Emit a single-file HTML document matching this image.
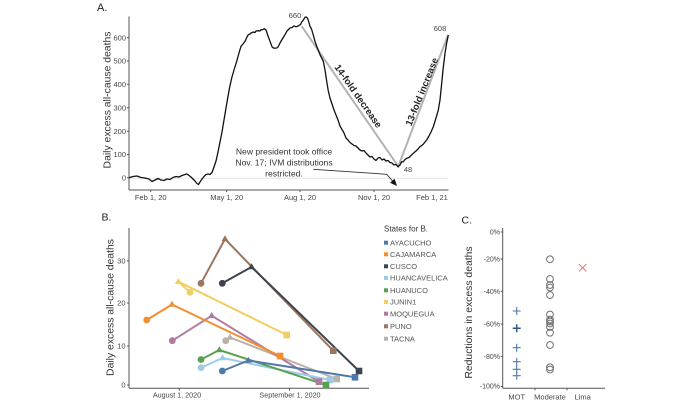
<!DOCTYPE html>
<html><head><meta charset="utf-8"><style>
html,body{margin:0;padding:0;background:#fff;}
svg{display:block;font-family:"Liberation Sans",Arial,sans-serif;}
</style></head><body>
<svg width="697" height="400" viewBox="0 0 697 400" xmlns="http://www.w3.org/2000/svg">
<rect width="697" height="400" fill="#fff"/>

<!-- ================= PANEL A ================= -->
<text x="97" y="11" font-size="11" fill="#222">A.</text>
<!-- zero line -->
<line x1="129" y1="178.3" x2="448" y2="178.3" stroke="#e6e6e6" stroke-width="1"/>
<!-- axes -->
<line x1="129" y1="16.5" x2="129" y2="190" stroke="#555" stroke-width="1"/>
<line x1="129" y1="190" x2="448.5" y2="190" stroke="#555" stroke-width="1"/>
<g stroke="#555" stroke-width="1">
<line x1="127" y1="37.7" x2="129" y2="37.7"/><line x1="127" y1="61" x2="129" y2="61"/>
<line x1="127" y1="84.3" x2="129" y2="84.3"/><line x1="127" y1="107.7" x2="129" y2="107.7"/>
<line x1="127" y1="131.3" x2="129" y2="131.3"/><line x1="127" y1="154.5" x2="129" y2="154.5"/>
<line x1="127" y1="177.8" x2="129" y2="177.8"/>
<line x1="150.7" y1="190" x2="150.7" y2="192"/><line x1="226.7" y1="190" x2="226.7" y2="192"/>
<line x1="300" y1="190" x2="300" y2="192"/><line x1="374" y1="190" x2="374" y2="192"/>
</g>
<g font-size="7.5" fill="#444" text-anchor="end">
<text x="126" y="40.3">600</text><text x="126" y="63.6">500</text>
<text x="126" y="86.9">400</text><text x="126" y="110.3">300</text>
<text x="126" y="133.9">200</text><text x="126" y="157.1">100</text>
<text x="126" y="180.4">0</text>
</g>
<g font-size="7.5" fill="#444" text-anchor="middle">
<text x="150.7" y="200">Feb 1, 20</text><text x="226.7" y="200">May 1, 20</text>
<text x="300" y="200">Aug 1, 20</text><text x="374" y="200">Nov 1, 20</text>
<text x="432" y="200">Feb 1, 21</text>
</g>
<text transform="translate(106.7,100) rotate(-90)" x="0" y="3.6" font-size="10.4" fill="#333" text-anchor="middle">Daily excess all-cause deaths</text>

<!-- gray trend lines -->
<polyline points="301.7,26.3 398.3,166.5 448,35" fill="none" stroke="#b3b3b3" stroke-width="2"/>
<!-- main curve -->
<polyline fill="none" stroke="#111" stroke-width="1.3" stroke-linejoin="round" points="
129,177.7 133,176.5 137,176 141,177.5 145,178 149,179 152,181.5 155,180 158,178.5 161,180 164,180.5 167,179 170,179.5 173,177.5 176,176.5 179,177 182,175.5 185,174.5 187,174 189,175.5 191,177 193,179 195,181 197,183.5 198.5,184.5 200,182 202,179 204,176.5 206,174.5 208,174 210,174.5 212,172.5 214,167 216,161 218,152 220,142 222,132 224,120 226,108 227.7,98 229.5,88 231.7,78 234,70 236.7,61.3 239,53 241,46.3 243,44 245,41.3 247,37 248.3,34.7 250,34 251,33 253.3,32 255,32.5 256,31 258.3,30.7 260,31 261,29.8 263,29.5 264.3,28.7 266,30 266.7,32 268,36 270,41.3 272.3,47.3 274,48.2 276.7,48 278,47 280,43 282,39.5 285,34.7 287,31 290,28 292,27.5 294,26 296,26.8 298,26 299.3,25.3 300.5,24.5 301.7,22 303,20.5 305,17.3 306.5,17 307.7,18.7 308.5,21 310,26.3 311.5,29 313,34 315,41.3 317,47 320,54.7 323.3,61.3 325,70 326.7,81.3 328.3,91 330,98 332,104 334,110 336,115 338,120 340,126 342,129.5 344,133 346,138 348,140 350,142.5 352,144 354,145.5 356,146 358,148 360,150 362,151 364,150.5 366,153 368,155 370,157 372,156.5 374,159 376,160.5 378,158 380,157.5 382,160 384,159 386,161 388,160.5 390,162.5 392,163 394,165 396,164.5 398,166.7 400,165 401.7,161.7 403,162 405,159.5 406.7,158.3 409,157.5 411,155.5 413.3,153.3 416,151 418,149 420,146.7 423,144.5 426.7,140 429,136 431,132 433.3,126.7 436,118 438.3,110 440,100 441.7,83.3 443,70 445,53.3 446.5,44 448.3,35"/>

<g font-size="7.5" fill="#444" text-anchor="middle">
<text x="295" y="18">660</text>
<text x="440" y="31">608</text>
<text x="408" y="172">48</text>
</g>
<text transform="translate(358.3,96) rotate(55)" x="0" y="3.3" font-size="9.5" font-weight="bold" fill="#222" text-anchor="middle">14-fold decrease</text>
<text transform="translate(421.7,91.7) rotate(-68)" x="0" y="3.3" font-size="9.5" font-weight="bold" fill="#222" text-anchor="middle">13-fold increase</text>

<g font-size="8.6" fill="#333" text-anchor="middle">
<text x="284" y="154.7">New president took office</text>
<text x="284" y="165.4">Nov. 17; IVM distributions</text>
<text x="284" y="176.3">restricted.</text>
</g>
<polyline points="313.3,169.3 386.7,174.3 392.4,180.8" fill="none" stroke="#333" stroke-width="0.9"/>
<polygon points="397,186 390.1,182.8 394.6,178.8" fill="#111"/>

<!-- ================= PANEL B ================= -->
<text x="101.5" y="220.5" font-size="10.5" fill="#222">B.</text>
<line x1="129" y1="228" x2="129" y2="388.3" stroke="#555" stroke-width="1"/>
<line x1="129" y1="388.3" x2="369" y2="388.3" stroke="#555" stroke-width="1"/>
<g stroke="#555" stroke-width="1">
<line x1="127" y1="261" x2="129" y2="261"/><line x1="127" y1="303" x2="129" y2="303"/>
<line x1="127" y1="346" x2="129" y2="346"/><line x1="127" y1="385" x2="129" y2="385"/>
<line x1="179.3" y1="388.3" x2="179.3" y2="390.5"/><line x1="289.5" y1="388.3" x2="289.5" y2="390.5"/>
</g>
<g font-size="7.5" fill="#444" text-anchor="end">
<text x="125.5" y="263.6">30</text><text x="125.5" y="305.6">20</text>
<text x="125.5" y="348.6">10</text><text x="125.5" y="387.6">0</text>
</g>
<g font-size="7.2" fill="#444" text-anchor="middle">
<text x="177" y="397.6">August 1, 2020</text>
<text x="290" y="397.6">September 1, 2020</text>
</g>
<text transform="translate(110,307.5) rotate(-90)" x="0" y="3.6" font-size="10.4" fill="#333" text-anchor="middle">Daily excess all-cause deaths</text>

<!-- series -->
<g stroke-width="2" fill="none" stroke-linejoin="round">
<polyline stroke="#bab0ac" points="225.7,340.7 230,337.5 336.7,379"/>
<polyline stroke="#b07aa1" points="172.3,340.7 211.7,315.7 319,381.7"/>
<polyline stroke="#f28e2b" points="146.7,320 172,304.5 280,356"/>
<polyline stroke="#f1ce63" points="190,292.3 178.5,281.7 286.7,335"/>
<polyline stroke="#a0cbe8" points="201,367.7 222.5,358 330,380"/>
<polyline stroke="#59a14f" points="201,359.5 219.3,350 326,385"/>
<polyline stroke="#4e79a7" points="222.3,371 248.3,360.5 355,377.3"/>
<polyline stroke="#9c755f" points="201,283.3 225,239 333.3,350.7"/>
<polyline stroke="#3d4451" points="222.3,283.3 251.5,267 359,371"/>
</g>
<!-- markers -->
<g>
<g fill="#bab0ac"><circle cx="225.7" cy="340.7" r="3.4"/><polygon points="230,333.8 233.6,339.8 226.4,339.8"/><rect x="333.4" y="375.7" width="6.6" height="6.6"/></g>
<g fill="#b07aa1"><circle cx="172.3" cy="340.7" r="3.4"/><polygon points="211.7,312 215.3,318 208.1,318"/><rect x="315.7" y="378.4" width="6.6" height="6.6"/></g>
<g fill="#f28e2b"><circle cx="146.7" cy="320" r="3.4"/><polygon points="172,300.8 175.6,306.8 168.4,306.8"/><rect x="276.7" y="352.7" width="6.6" height="6.6"/></g>
<g fill="#f1ce63"><circle cx="190" cy="292.3" r="3.4"/><polygon points="178.5,278 182.1,284 174.9,284"/><rect x="283.4" y="331.7" width="6.6" height="6.6"/></g>
<g fill="#a0cbe8"><circle cx="201" cy="367.7" r="3.4"/><polygon points="222.5,354.3 226.1,360.3 218.9,360.3"/><rect x="326.7" y="376.7" width="6.6" height="6.6"/></g>
<g fill="#59a14f"><circle cx="201" cy="359.5" r="3.4"/><polygon points="219.3,346.3 222.9,352.3 215.7,352.3"/><rect x="322.7" y="381.7" width="6.6" height="6.6"/></g>
<g fill="#4e79a7"><circle cx="222.3" cy="371" r="3.4"/><polygon points="248.3,356.8 251.9,362.8 244.7,362.8"/><rect x="351.7" y="374" width="6.6" height="6.6"/></g>
<g fill="#9c755f"><circle cx="201" cy="283.3" r="3.4"/><polygon points="225,235.3 228.6,241.3 221.4,241.3"/><rect x="330" y="347.4" width="6.6" height="6.6"/></g>
<g fill="#3d4451"><circle cx="222.3" cy="283.3" r="3.4"/><polygon points="251.5,263.3 255.1,269.3 247.9,269.3"/><rect x="355.7" y="367.7" width="6.6" height="6.6"/></g>
</g>

<!-- legend -->
<text x="384" y="231.5" font-size="8" fill="#333">States for B.</text>
<g font-size="7.5" fill="#555">
<rect x="384" y="240.7" width="4" height="4" fill="#4e79a7"/><text x="390" y="245.4">AYACUCHO</text>
<rect x="384" y="252.3" width="4" height="4" fill="#f28e2b"/><text x="390" y="257">CAJAMARCA</text>
<rect x="384" y="264.3" width="4" height="4" fill="#3d4451"/><text x="390" y="269">CUSCO</text>
<rect x="384" y="276" width="4" height="4" fill="#a0cbe8"/><text x="390" y="280.7">HUANCAVELICA</text>
<rect x="384" y="288.3" width="4" height="4" fill="#59a14f"/><text x="390" y="293">HUANUCO</text>
<rect x="384" y="300" width="4" height="4" fill="#f1ce63"/><text x="390" y="304.7">JUNIN1</text>
<rect x="384" y="311.7" width="4" height="4" fill="#b07aa1"/><text x="390" y="316.4">MOQUEGUA</text>
<rect x="384" y="324.3" width="4" height="4" fill="#9c755f"/><text x="390" y="329">PUNO</text>
<rect x="384" y="336.7" width="4" height="4" fill="#bab0ac"/><text x="390" y="341.4">TACNA</text>
</g>

<!-- ================= PANEL C ================= -->
<text x="461.5" y="223.5" font-size="10.5" fill="#222">C.</text>
<line x1="502.7" y1="228" x2="502.7" y2="388.3" stroke="#555" stroke-width="1"/>
<line x1="502.7" y1="388.3" x2="605" y2="388.3" stroke="#555" stroke-width="1"/>
<g stroke="#555" stroke-width="1">
<line x1="500.7" y1="232" x2="502.7" y2="232"/><line x1="500.7" y1="259" x2="502.7" y2="259"/>
<line x1="500.7" y1="291.3" x2="502.7" y2="291.3"/><line x1="500.7" y1="324" x2="502.7" y2="324"/>
<line x1="500.7" y1="356.6" x2="502.7" y2="356.6"/><line x1="500.7" y1="386.5" x2="502.7" y2="386.5"/>
<line x1="535" y1="388.3" x2="535" y2="390.3"/><line x1="567" y1="388.3" x2="567" y2="390.3"/>
</g>
<g font-size="7" fill="#444" text-anchor="end">
<text x="500" y="234.4">0%</text><text x="500" y="261.6">-20%</text>
<text x="500" y="293.8">-40%</text><text x="500" y="326.5">-60%</text>
<text x="500" y="359">-80%</text><text x="500" y="388.5">-100%</text>
</g>
<g font-size="7.5" fill="#444" text-anchor="middle">
<text x="516.7" y="399.3">MOT</text>
<text x="550" y="399.3">Moderate</text>
<text x="582.7" y="399.3">Lima</text>
</g>
<text transform="translate(468.3,312.5) rotate(-90)" x="0" y="3.6" font-size="10.4" fill="#333" text-anchor="middle">Reductions in excess deaths</text>

<!-- MOT pluses -->
<g stroke="#4e79a7" stroke-width="1.1">
<path d="M512.7,311H520.7M516.7,307V315"/>
<path d="M512.7,328.3H520.7M516.7,324.3V332.3" stroke="#2f5a8a" stroke-width="1.5"/>
<path d="M512.7,347.7H520.7M516.7,343.7V351.7"/>
<path d="M512.7,361.7H520.7M516.7,357.7V365.7"/>
<path d="M512.7,369.3H520.7M516.7,365.3V373.3"/>
<path d="M512.7,375.7H520.7M516.7,371.7V379.7"/>
</g>
<!-- Moderate circles -->
<g fill="none" stroke="#707070" stroke-width="1">
<circle cx="550" cy="259.3" r="3.4"/><circle cx="550" cy="279" r="3.4"/>
<circle cx="550" cy="285" r="3.4"/><circle cx="550" cy="287.5" r="3.4"/>
<circle cx="550" cy="295" r="3.4"/><circle cx="550" cy="314.5" r="3.4"/>
<circle cx="550" cy="319.5" r="3.4"/><circle cx="550" cy="321.5" r="3.4"/>
<circle cx="550" cy="323.5" r="3.4"/><circle cx="550" cy="327" r="3.4"/>
<circle cx="550" cy="332.7" r="3.4"/><circle cx="550" cy="345" r="3.4"/>
<circle cx="550" cy="367.3" r="3.4"/><circle cx="550" cy="369.5" r="3.4"/>
</g>
<!-- Lima X -->
<path d="M579,264L586.4,271.4M586.4,264L579,271.4" stroke="#e8807a" stroke-width="1.1"/>
</svg>
</body></html>
